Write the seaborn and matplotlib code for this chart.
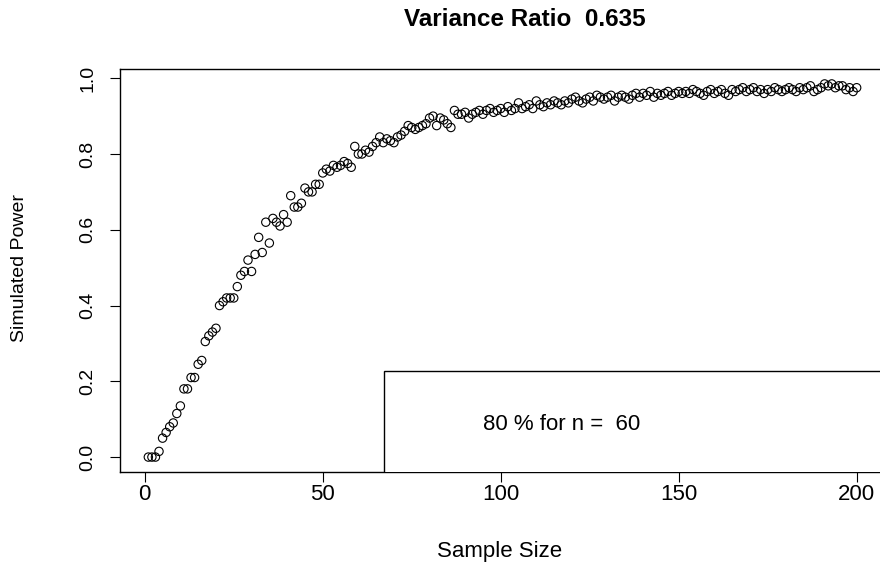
import numpy as np
import pandas as pd
import matplotlib
matplotlib.use("Agg")
import matplotlib.pyplot as plt
from matplotlib.patches import Rectangle
import seaborn as sns

sns.set_style("white", {"text.color": "black", "axes.labelcolor": "black",
                        "xtick.color": "black", "ytick.color": "black",
                        "axes.edgecolor": "black"})
plt.rcParams['font.family'] = ['Liberation Sans', 'DejaVu Sans']

title = "Variance Ratio  0.635"
x_label = "Sample Size"
y_label = "Simulated Power"
legend_text = "80 % for n =  60"
x_ticks = [0, 50, 100, 150, 200]
y_ticks = [0.0, 0.2, 0.4, 0.6, 0.8, 1.0]
y_tick_labels = ["0.0", "0.2", "0.4", "0.6", "0.8", "1.0"]

sample_size = list(range(1, 201))
power_1_50 = [0.0, 0.0, 0.0, 0.015, 0.05, 0.065, 0.08, 0.09, 0.115, 0.135,
              0.18, 0.18, 0.21, 0.21, 0.245, 0.255, 0.305, 0.32, 0.33, 0.34,
              0.40, 0.41, 0.42, 0.42, 0.42, 0.45, 0.48, 0.49, 0.52, 0.49,
              0.535, 0.58, 0.54, 0.62, 0.565, 0.63, 0.62, 0.61, 0.64, 0.62,
              0.69, 0.66, 0.66, 0.67, 0.71, 0.70, 0.70, 0.72, 0.72, 0.75]
power_51_100 = [0.76, 0.755, 0.77, 0.765, 0.77, 0.78, 0.775, 0.765, 0.82, 0.80,
                0.80, 0.81, 0.805, 0.82, 0.83, 0.845, 0.83, 0.84, 0.835, 0.83,
                0.845, 0.85, 0.86, 0.875, 0.87, 0.865, 0.87, 0.875, 0.88, 0.895,
                0.90, 0.875, 0.895, 0.89, 0.88, 0.87, 0.915, 0.905, 0.905, 0.91,
                0.895, 0.905, 0.91, 0.915, 0.905, 0.915, 0.92, 0.91, 0.915, 0.92]
power_101_150 = [0.91, 0.925, 0.915, 0.92, 0.935, 0.92, 0.925, 0.93, 0.92, 0.94,
                 0.93, 0.925, 0.935, 0.93, 0.94, 0.935, 0.93, 0.94, 0.935, 0.945,
                 0.95, 0.94, 0.935, 0.945, 0.95, 0.94, 0.955, 0.95, 0.945, 0.95,
                 0.955, 0.94, 0.95, 0.955, 0.95, 0.945, 0.955, 0.96, 0.95, 0.96,
                 0.955, 0.965, 0.95, 0.96, 0.955, 0.96, 0.965, 0.955, 0.96, 0.965]
power_151_200 = [0.96, 0.965, 0.96, 0.97, 0.965, 0.96, 0.955, 0.965, 0.97, 0.96,
                 0.965, 0.97, 0.96, 0.955, 0.97, 0.965, 0.97, 0.975, 0.965, 0.97,
                 0.975, 0.965, 0.97, 0.96, 0.97, 0.965, 0.975, 0.97, 0.965, 0.97,
                 0.975, 0.97, 0.965, 0.975, 0.97, 0.975, 0.98, 0.965, 0.97, 0.975,
                 0.985, 0.98, 0.985, 0.975, 0.98, 0.98, 0.97, 0.975, 0.965, 0.975]
power = power_1_50 + power_51_100 + power_101_150 + power_151_200

df = pd.DataFrame({"n": sample_size, "power": power})

fig = plt.figure(figsize=(8.8, 5.64), dpi=100)
ax = fig.add_axes([120/880, 1 - 472/564, 765/880, (472 - 69)/564])

sns.scatterplot(data=df, x="n", y="power", ax=ax, marker="o", s=36,
                facecolor="none", edgecolor="black", linewidth=0.8)

xmin, xmax = -6.96, 207.96
ymin, ymax = -0.0394, 1.0244
ax.set_xlim(xmin, xmax)
ax.set_ylim(ymin, ymax)

FS_H = 16     # horizontal text
FS_V = 14     # vertical text

# legend box (R-style, extends beyond plot region)
ax.add_patch(Rectangle((67.3, ymin - 0.1), 200, 0.226 - ymin + 0.1,
                       facecolor="white", edgecolor="black", linewidth=1.0,
                       zorder=3, clip_on=True))
ax.text(95.0, 0.087, legend_text, ha="left", va="center", fontsize=FS_H, zorder=4)

ax.set_xticks(x_ticks)
ax.set_yticks(y_ticks)
ax.set_yticklabels(y_tick_labels, rotation=90, va="center")
ax.tick_params(axis="both", direction="out", length=7, width=0.8, colors="black",
               left=True, bottom=True)
ax.tick_params(axis="x", pad=2, labelsize=FS_H)
ax.tick_params(axis="y", pad=10, labelsize=FS_V)
for s in ax.spines.values():
    s.set_color("black")
    s.set_linewidth(1.0)

ax.set_xlabel(x_label, fontsize=FS_H)
ax.set_ylabel(y_label, fontsize=FS_V)
ax.xaxis.set_label_coords((500 - 120) / 765, (472 - 551) / 403)
ax.yaxis.set_label_coords((20 - 120) / 765, (472 - 268) / 403)
ax.xaxis.label.set_va("center")
ax.yaxis.label.set_va("center")
fig.text(525/880, 1 - 19/564, title, ha="center", va="center",
         fontsize=17.5, fontweight="bold")

fig.savefig("out.png", dpi=100)
